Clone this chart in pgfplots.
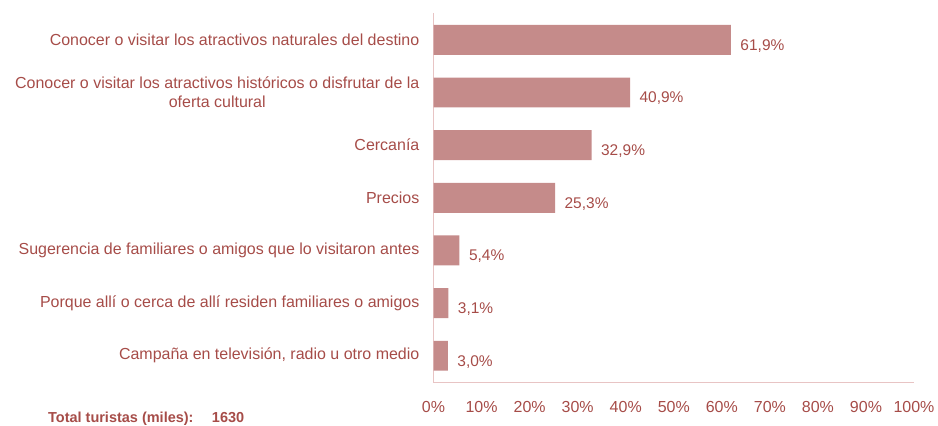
\documentclass[border=0pt]{standalone}
\usepackage{pgfplots}
\pgfplotsset{compat=1.18}
\usepackage{fontspec}
\setmainfont{Liberation Sans}
\definecolor{barc}{RGB}{197,139,138}
\definecolor{txtc}{RGB}{166,76,72}
\definecolor{axc}{RGB}{232,196,196}
\begin{document}
\begin{tikzpicture}
\begin{axis}[
  name=ax,
  scale only axis,
  width=481pt, height=370pt,
  xbar, bar width=30pt,
  xmin=0, xmax=100,
  ymin=-0.51, ymax=6.51,
  y dir=reverse,
  axis x line=bottom, axis y line=left,
  axis line style={-, draw=axc, line width=1.2pt},
  major tick length=0pt,
  xtick={0,10,...,100},
  xticklabel={\pgfmathprintnumber{\tick}\%},
  xticklabel style={font=\fontsize{16}{18}\selectfont, text=txtc, yshift=-15pt},
  /pgf/number format/assume math mode=true,
  ytick={0,...,6},
  yticklabels={Conocer o visitar los atractivos naturales del destino,
    {Conocer o visitar los atractivos históricos o disfrutar de la\\oferta cultural},
    Cercanía, Precios,
    Sugerencia de familiares o amigos que lo visitaron antes,
    Porque allí o cerca de allí residen familiares o amigos,
    {Campaña en televisión, radio u otro medio}},
  yticklabel style={font=\fontsize{16}{19}\selectfont, text=txtc, align=center, inner sep=0pt, xshift=-14pt},
  nodes near coords={\pgfmathprintnumber[fixed,precision=1,fixed zerofill,use comma,assume math mode=true]{\pgfplotspointmeta}\%},
  nodes near coords style={font=\fontsize{15.5}{17}\selectfont, text=txtc, anchor=west, xshift=6pt, yshift=-6pt},
  clip=false,
]
\addplot[fill=barc, draw=none] coordinates {
(61.9,0) (40.9,1) (32.9,2) (25.3,3) (5.4,4) (3.1,5) (3.0,6)};
\end{axis}
\node[anchor=base west, inner sep=0pt, text=txtc, font=\fontsize{14.5}{16}\selectfont\bfseries] at ([xshift=-386pt,yshift=-40pt]ax.south west) {Total turistas (miles):};
\node[anchor=base west, inner sep=0pt, text=txtc, font=\fontsize{14.5}{16}\selectfont\bfseries] at ([xshift=-222pt,yshift=-40pt]ax.south west) {1630};
\path ([xshift=-434pt,yshift=-43pt]ax.south west) rectangle ([xshift=24pt,yshift=13pt]ax.north east);
\end{tikzpicture}
\end{document}
